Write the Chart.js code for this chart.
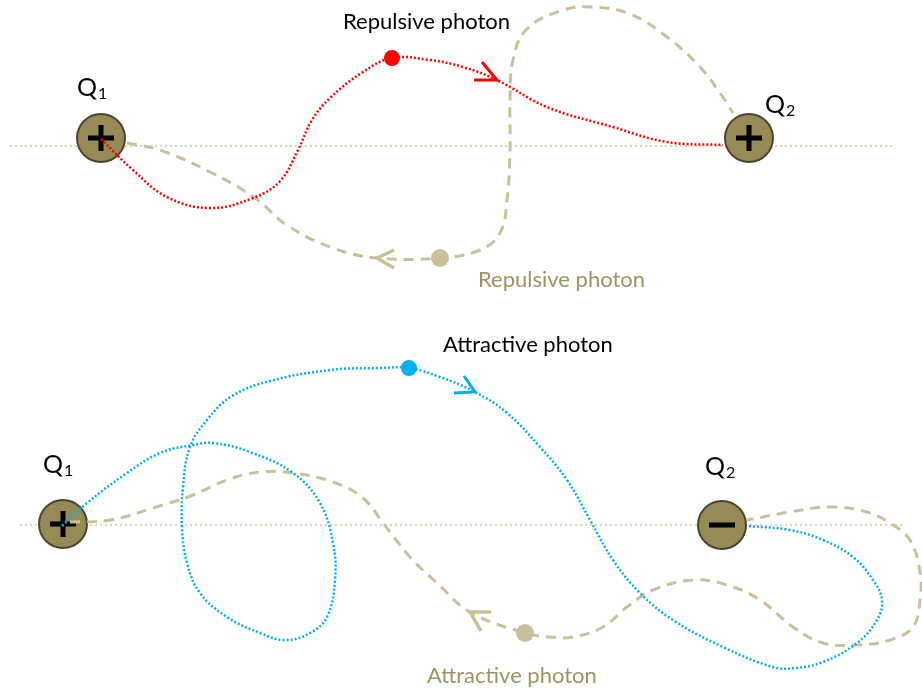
<!DOCTYPE html>
<html>
<head>
<meta charset="utf-8">
<script src="https://cdn.jsdelivr.net/npm/chart.js@4.4.1/dist/chart.umd.min.js"></script>
<style>
  html, body { margin: 0; padding: 0; background: #fff; }
  #wrap { width: 922px; height: 692px; position: relative; }
</style>
</head>
<body>
<div id="wrap"><canvas id="diagrama"></canvas></div>
<script>
// pontos (unidades do eixo = 0..922 x 0..692)
const eixoTopo = [[10, 146], [893, 146]];
const eixoBaixo = [[20, 525], [905, 525]];

const cargas = [[101, 138], [749, 138], [63, 524], [722, 525]];
const sinais = ['cross', 'cross', 'cross', 'line'];

const fotonVermelho = [[101, 139], [133, 170], [167, 197], [210, 208], [253, 198], [280, 181], [298, 150], [312, 120], [330, 98], [363, 72], [392, 58], [430, 60], [463, 67], [497, 80], [547, 107], [613, 127], [667, 142], [723, 145]];
const setaVermelha = [[482, 62], [497, 80], [474, 80]];

const fotonBegeTopo = [[127, 143], [160, 150], [210, 172], [255, 198], [288, 226], [333, 248], [377, 258], [440, 258], [480, 250], [500, 233], [507, 200], [510, 150], [510, 100], [513, 60], [526, 30], [560, 11], [592, 7], [630, 14], [667, 37], [700, 67], [720, 93], [733, 113]];
const setaBegeTopo = [[394, 250], [377, 258], [394, 268]];

const fotonAzul = [[62, 526], [87, 503], [127, 473], [160, 453], [193, 445], [213, 443], [250, 452], [293, 473], [320, 503], [333, 543], [335, 580], [327, 617], [310, 633], [285, 640], [260, 633], [227, 617], [200, 593], [187, 563], [182, 527], [183, 487], [190, 447], [207, 420], [232, 396], [270, 381], [330, 370], [380, 368], [409, 368], [440, 377], [475, 392], [507, 413], [540, 447], [567, 480], [590, 520], [613, 560], [640, 593], [673, 620], [723, 647], [773, 667], [795, 668], [823, 662], [857, 643], [877, 620], [882, 600], [873, 580], [853, 557], [823, 540], [790, 530], [747, 526]];
const setaAzul = [[464, 376], [475, 392], [454, 393]];

const fotonBegeBaixo = [[70, 522], [110, 520], [153, 508], [193, 495], [227, 480], [260, 472], [293, 473], [333, 482], [363, 498], [383, 523], [410, 557], [437, 583], [470, 612], [525, 633], [550, 637], [573, 637], [603, 627], [627, 607], [653, 590], [693, 580], [727, 585], [760, 600], [793, 627], [823, 643], [857, 645], [890, 640], [913, 627], [920, 600], [920, 572], [910, 540], [890, 523], [867, 512], [830, 507], [790, 512], [747, 520]];
const setaBegeBaixo = [[491, 612], [470, 612], [481, 631]];

const pontosFoton = [[392, 58], [440, 258], [409, 368], [525, 633]];

const textos = ['Repulsive photon', 'Repulsive photon', 'Attractive photon', 'Attractive photon'];
const nomesCargas = [['Q', '1'], ['Q', '2'], ['Q', '1'], ['Q', '2']];

const BEGE = '#c9c09b';
const BEGE_TEXTO = '#9e9363';
const VERMELHO = '#ff0000';
const AZUL = '#00b0f0';

const xy = (lista) => lista.map(([x, y]) => ({ x, y }));

function linha(dados, cor, largura, tracejado, ordem, tensao) {
    return {
        data: xy(dados),
        showLine: true,
        borderColor: cor,
        borderWidth: largura,
        borderDash: tracejado,
        borderCapStyle: 'butt',
        pointRadius: 0,
        tension: tensao,
        fill: false,
        order: ordem
    };
}

const pluginTextos = {
    id: 'textos',
    afterDatasetsDraw(chart) {
        const { ctx, scales: { x, y } } = chart;
        const posTextos = [[343, 29, '#000', 167], [478, 287, BEGE_TEXTO, 169], [443, 352, '#000', 170], [427, 683, BEGE_TEXTO, 170]];
        const posNomes = [[77, 96], [765, 113], [43, 473], [705, 475]];
        ctx.save();
        ctx.textBaseline = 'alphabetic';
        ctx.font = '22px Lato';
        textos.forEach((t, i) => {
            const [px, py, cor, larg] = posTextos[i];
            ctx.fillStyle = cor;
            ctx.fillText(t, x.getPixelForValue(px), y.getPixelForValue(py), larg);
        });
        ctx.fillStyle = '#000';
        nomesCargas.forEach(([letra, indice], i) => {
            const [px, py] = posNomes[i];
            ctx.font = '25px Lato';
            const xx = x.getPixelForValue(px);
            const yy = y.getPixelForValue(py);
            ctx.fillText(letra, xx, yy);
            const w = ctx.measureText(letra).width;
            ctx.font = '16px Lato';
            ctx.fillText(indice, xx + w + 1, yy + 3);
        });
        ctx.restore();
    }
};

new Chart(document.getElementById('diagrama'), {
    type: 'scatter',
    data: {
        datasets: [
            linha(eixoTopo, '#dcd5b8', 2, [2, 3], 20, 0),
            linha(eixoBaixo, '#dcd5b8', 2, [2, 3], 20, 0),
            {
                data: xy(cargas),
                pointRadius: 24,
                pointBackgroundColor: '#968b56',
                pointBorderColor: '#4b452e',
                pointBorderWidth: 2,
                showLine: false,
                order: 18
            },
            {
                data: xy(cargas),
                pointStyle: sinais,
                pointRadius: 13,
                pointBorderColor: '#000',
                pointBorderWidth: 5,
                showLine: false,
                order: 17
            },
            linha(fotonBegeTopo, BEGE, 3, [10, 7], 15, 0.4),
            linha(fotonBegeBaixo, BEGE, 3, [10, 7], 15, 0.4),
            linha(fotonVermelho, VERMELHO, 2.5, [2, 2], 12, 0.4),
            linha(fotonAzul, AZUL, 2.5, [2, 2], 12, 0.4),
            linha(setaVermelha, VERMELHO, 3, [], 10, 0),
            linha(setaAzul, AZUL, 3, [], 10, 0),
            linha(setaBegeTopo, BEGE, 3.5, [], 10, 0),
            linha(setaBegeBaixo, BEGE, 3.5, [], 10, 0),
            {
                data: xy(pontosFoton),
                pointRadius: [8, 9, 8, 9],
                pointBackgroundColor: [VERMELHO, BEGE, AZUL, BEGE],
                pointBorderWidth: 0,
                showLine: false,
                order: 5
            }
        ]
    },
    options: {
        responsive: true,
        maintainAspectRatio: false,
        animation: false,
        events: [],
        layout: { padding: 0, autoPadding: false },
        plugins: {
            legend: { display: false },
            tooltip: { enabled: false }
        },
        scales: {
            x: { type: 'linear', min: 0, max: 922, display: false },
            y: { type: 'linear', min: 0, max: 692, reverse: true, display: false }
        }
    },
    plugins: [pluginTextos]
});
</script>
</body>
</html>
